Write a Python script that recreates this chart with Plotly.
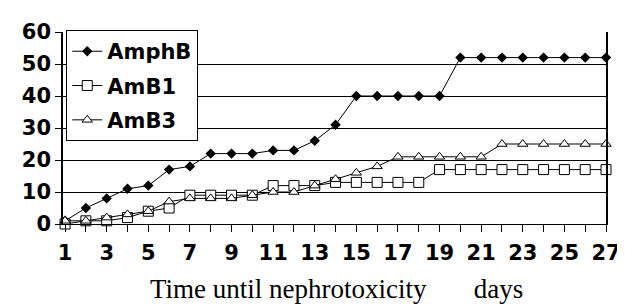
import plotly.graph_objects as go

days = list(range(1, 28))
amphb = [1, 5, 8, 11, 12, 17, 18, 22, 22, 22, 23, 23, 26, 31, 40, 40, 40, 40, 40, 52, 52, 52, 52, 52, 52, 52, 52]
amb1 = [0, 1, 1, 2, 4, 5, 9, 9, 9, 9, 12, 12, 12, 13, 13, 13, 13, 13, 17, 17, 17, 17, 17, 17, 17, 17, 17]
amb3 = [1, 1, 2, 3, 4, 7, 8, 8, 8, 9, 10, 10, 12, 14, 16, 18, 21, 21, 21, 21, 21, 25, 25, 25, 25, 25, 25]
x_tick_vals = list(range(1, 28, 2))
y_tick_vals = [0, 10, 20, 30, 40, 50, 60]

BOLD = dict(family="DejaVu Sans", size=21, color="black", weight="bold")

fig = go.Figure()
fig.add_trace(go.Scatter(x=days, y=amphb, name="AmphB", mode="lines+markers",
                         line=dict(color="black", width=1),
                         marker=dict(symbol="diamond", size=8, color="black"),
                         cliponaxis=False, legendgroup="a"))
fig.add_trace(go.Scatter(x=days, y=amb1, name="AmB1", mode="lines+markers",
                         line=dict(color="black", width=1),
                         marker=dict(symbol="square", size=10, color="white",
                                     line=dict(color="black", width=1)),
                         cliponaxis=False, legendgroup="b"))
fig.add_trace(go.Scatter(x=days, y=amb3, name="AmB3", mode="lines+markers",
                         line=dict(color="black", width=1),
                         marker=dict(symbol="triangle-up", size=9, color="white",
                                     line=dict(color="black", width=1)),
                         cliponaxis=False, legendgroup="c"))

fig.update_layout(
    width=625, height=306,
    margin=dict(l=55, r=23, t=22, b=90),
    paper_bgcolor="white", plot_bgcolor="white",
    font=BOLD,
    showlegend=True,
    legend=dict(x=0.006, y=1.01, xanchor="left", yanchor="top",
                bgcolor="white", bordercolor="black", borderwidth=1,
                font=BOLD, traceorder="grouped", tracegroupgap=4),
    xaxis=dict(range=[0.9, 27], tickmode="array", tickvals=x_tick_vals,
               ticktext=[str(v) for v in x_tick_vals],
               ticks="outside", ticklen=7, tickcolor="black", tickwidth=1,
               showline=True, linecolor="black", linewidth=1,
               showgrid=False, zeroline=False, ticklabelstandoff=3,
               tickfont=BOLD,
               minor=dict(tickmode="array", tickvals=days, ticks="outside",
                          ticklen=7, tickcolor="black", tickwidth=1, showgrid=False)),
    yaxis=dict(range=[0, 60], tickmode="array", tickvals=y_tick_vals,
               ticks="outside", ticklen=6, tickcolor="black",
               showline=True, linecolor="black", linewidth=1.5, mirror=True,
               showgrid=True, gridcolor="black", gridwidth=1,
               zeroline=False, tickfont=BOLD),
)

fig.add_annotation(text="Time until nephrotoxicity\u00a0\u00a0\u00a0\u00a0\u00a0\u00a0\u00a0days",
                   xref="paper", yref="paper", x=(331 - 55) / 547, y=(216 - 282) / 194,
                   xanchor="center", yanchor="middle", showarrow=False,
                   font=dict(family="Liberation Serif", size=27, color="black", weight="normal"))

fig.write_html("out.html")
